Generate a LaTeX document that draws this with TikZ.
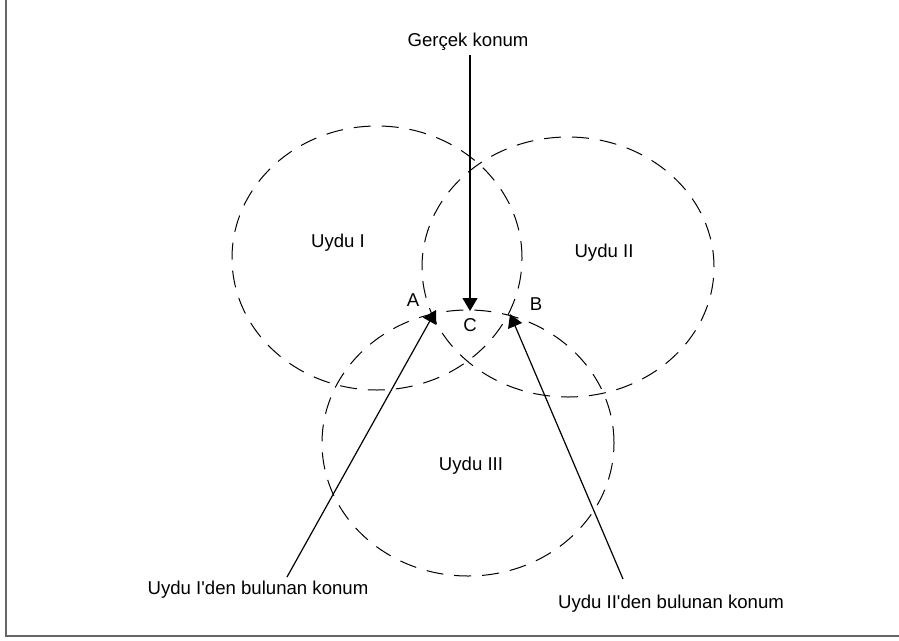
\documentclass[tikz,border=0pt]{standalone}
\usepackage{fontspec}
\newfontfamily\lblfont{Liberation Sans}
\usetikzlibrary{arrows.meta,shapes.geometric}
\begin{document}
\begin{tikzpicture}[x=1pt,y=-1pt,
  orbit/.style={draw=black,line width=1pt,dash pattern=on 17pt off 11pt},
  lbl/.style={font=\lblfont\fontsize{18.6}{22}\selectfont,inner sep=0pt},
  ptr/.style={draw=black,line width=1.2pt,-{Triangle[length=13pt,width=15pt]}},
  frame/.style={draw=black!60,line width=2pt}]
\useasboundingbox (0,0) rectangle (899,640);
\draw[frame] (6,0) -- (6,636) -- (899,636);
% satellite circles
\node[orbit,ellipse,minimum width=290pt,minimum height=264pt,inner sep=0pt] (c1) at (377,258) {};
\node[orbit,ellipse,minimum width=292pt,minimum height=260pt,inner sep=0pt] (c2) at (568,267) {};
\node[orbit,ellipse,minimum width=292pt,minimum height=266pt,inner sep=0pt] (c3) at (468,443) {};
% labels
\node[lbl] (u1) at (338,243) {Uydu I};
\node[lbl] (u2) at (604,253) {Uydu II};
\node[lbl] (u3) at (471,466) {Uydu III};
\node[lbl] (la) at (413,300) {A};
\node[lbl] (lc) at (470,325) {C};
\node[lbl] (lb) at (536,304) {B};
\node[lbl] (g) at (468,42) {Gerçek konum};
\node[lbl] (f1) at (258,590) {Uydu I'den bulunan konum};
\node[lbl] (f2) at (671,604) {Uydu II'den bulunan konum};
% points
\coordinate (pc) at (470,311);
\coordinate (pa) at (436,310);
\coordinate (pb) at (510,314);
\coordinate (ta) at (287,577);
\coordinate (tb) at (623,579);
% arrows
\draw[ptr] (470,55) -- (pc);
\draw[ptr] (ta) -- (pa);
\draw[ptr] (tb) -- (pb);
\end{tikzpicture}
\end{document}
